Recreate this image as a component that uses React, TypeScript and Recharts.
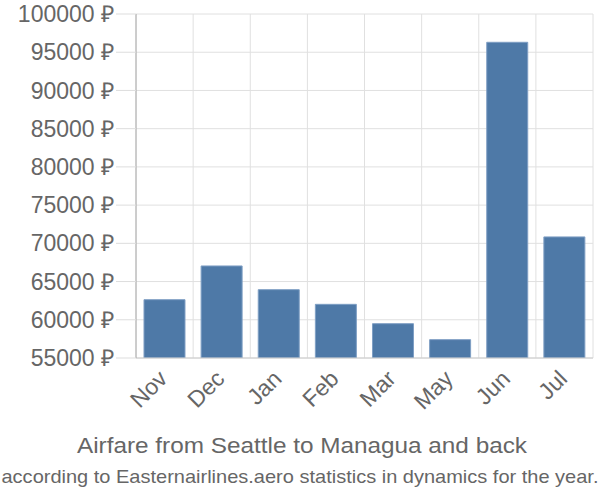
import { BarChart, Bar, XAxis, YAxis, CartesianGrid } from 'recharts';

const months = ['Nov', 'Dec', 'Jan', 'Feb', 'Mar', 'May', 'Jun', 'Jul'];
const prices = [62630, 67040, 63940, 62020, 59490, 57400, 96300, 70840];
const priceTicks = [55000, 60000, 65000, 70000, 75000, 80000, 85000, 90000, 95000, 100000];
const boundaryTicks = [0, 1, 2, 3, 4, 5, 6, 7, 8];

const title = 'Airfare from Seattle to Managua and back';
const subtitle = 'according to Easternairlines.aero statistics in dynamics for the year.';

const data = months.map((month, i) => ({ month, price: prices[i], pos: i + 0.5 }));

const FONT = '"Liberation Sans", Arial, sans-serif';
const TEXT = '#666666';

const MonthTick = (props: any) => {
  const { x, y, payload } = props;
  return (
    <text
      x={x + 2}
      y={y}
      dy={3}
      textAnchor="end"
      transform={`rotate(-45, ${x + 2}, ${y})`}
      fill={TEXT}
      fontSize={23}
      fontFamily={FONT}
    >
      {payload.value}
    </text>
  );
};

export default function App() {
  return (
    <div style={{ position: 'absolute', left: 0, top: 0, width: 600, height: 500, background: '#fff' }}>
      <BarChart
        width={600}
        height={500}
        data={data}
        margin={{ top: 14, right: 7, left: 0, bottom: 0 }}
        barCategoryGap="14%"
      >
        <CartesianGrid xAxisId="grid" stroke="#e0e0e0" strokeWidth={1} />
        <XAxis
          xAxisId="grid"
          type="number"
          dataKey="pos"
          domain={[0, 8]}
          ticks={boundaryTicks}
          interval={0}
          height={0}
          axisLine={false}
          tickSize={20}
          tickLine={{ stroke: '#dddddd' }}
          tick={() => <g />}
        />
        <XAxis
          dataKey="month"
          height={142}
          axisLine={{ stroke: '#cccccc' }}
          tickLine={false}
          tickSize={20}
          tickMargin={0}
          interval={0}
          tick={<MonthTick />}
        />
        <YAxis
          domain={[55000, 100000]}
          ticks={priceTicks}
          interval={0}
          width={136}
          allowDataOverflow
          axisLine={{ stroke: '#aaaaaa' }}
          tickLine={{ stroke: '#dddddd' }}
          tickSize={20}
          tickMargin={2}
          tickFormatter={(v: number) => `${v} ₽`}
          tick={{ fill: TEXT, fontSize: 23, fontFamily: FONT }}
        />
        <Bar dataKey="price" fill="#4e79a7" stroke="#7f9fc4" strokeWidth={1} isAnimationActive={false} />
      </BarChart>
      <svg width={600} height={500} style={{ position: 'absolute', left: 0, top: 0, pointerEvents: 'none' }}>
        <text
          x={302}
          y={453}
          textAnchor="middle"
          fill={TEXT}
          fontSize={22}
          fontFamily={FONT}
          textLength={450}
          lengthAdjust="spacingAndGlyphs"
        >
          {title}
        </text>
        <text
          x={300}
          y={483}
          textAnchor="middle"
          fill={TEXT}
          fontSize={19}
          fontFamily={FONT}
          textLength={597}
          lengthAdjust="spacingAndGlyphs"
        >
          {subtitle}
        </text>
      </svg>
    </div>
  );
}
